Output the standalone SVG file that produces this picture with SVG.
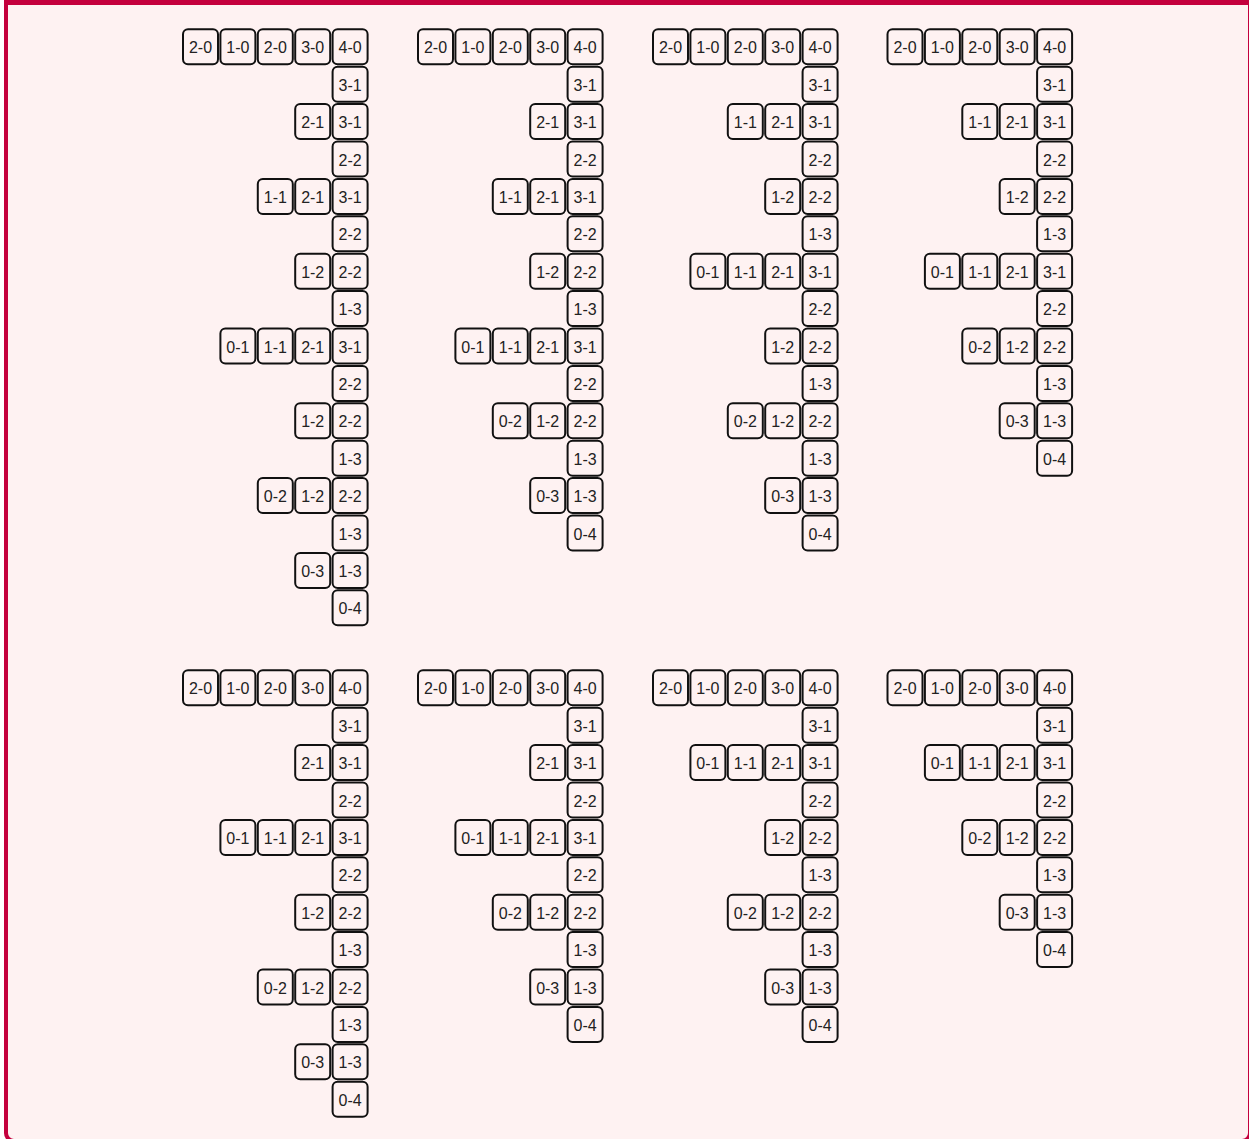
<svg xmlns="http://www.w3.org/2000/svg" width="1249" height="1139" viewBox="0 0 1249 1139">
<style>
.b{fill:#FEF2F2;stroke:#111;stroke-width:2}
.t{font-family:"Liberation Sans",Arial,sans-serif;font-size:16px;fill:#222;text-anchor:middle}
</style>
<defs>
<rect id="box" x="1" y="1" width="35" height="35" rx="5" class="b"/>
</defs>
<rect x="0" y="0" width="1249" height="1139" fill="#FFFFFF"/>
<rect x="6" y="-10" width="1244" height="1151" rx="8" fill="#FEF2F2" stroke="#C4003D" stroke-width="4"/>
<rect x="4" y="0" width="1245" height="5" fill="#C4003D"/>
<g id="connectors"></g>

<g id="panel-a" transform="translate(182,28.3)">
<g id="a-0-0" transform="translate(0,0)"><use href="#box"/><text class="t" x="18.5" y="25">2-0</text></g>
<g id="a-0-1" transform="translate(37.4,0)"><use href="#box"/><text class="t" x="18.5" y="25">1-0</text></g>
<g id="a-0-2" transform="translate(74.8,0)"><use href="#box"/><text class="t" x="18.5" y="25">2-0</text></g>
<g id="a-0-3" transform="translate(112.2,0)"><use href="#box"/><text class="t" x="18.5" y="25">3-0</text></g>
<g id="a-0-4" transform="translate(149.6,0)"><use href="#box"/><text class="t" x="18.5" y="25">4-0</text></g>
<g id="a-1-4" transform="translate(149.6,37.4)"><use href="#box"/><text class="t" x="18.5" y="25">3-1</text></g>
<g id="a-2-3" transform="translate(112.2,74.8)"><use href="#box"/><text class="t" x="18.5" y="25">2-1</text></g>
<g id="a-2-4" transform="translate(149.6,74.8)"><use href="#box"/><text class="t" x="18.5" y="25">3-1</text></g>
<g id="a-3-4" transform="translate(149.6,112.2)"><use href="#box"/><text class="t" x="18.5" y="25">2-2</text></g>
<g id="a-4-2" transform="translate(74.8,149.6)"><use href="#box"/><text class="t" x="18.5" y="25">1-1</text></g>
<g id="a-4-3" transform="translate(112.2,149.6)"><use href="#box"/><text class="t" x="18.5" y="25">2-1</text></g>
<g id="a-4-4" transform="translate(149.6,149.6)"><use href="#box"/><text class="t" x="18.5" y="25">3-1</text></g>
<g id="a-5-4" transform="translate(149.6,187)"><use href="#box"/><text class="t" x="18.5" y="25">2-2</text></g>
<g id="a-6-3" transform="translate(112.2,224.4)"><use href="#box"/><text class="t" x="18.5" y="25">1-2</text></g>
<g id="a-6-4" transform="translate(149.6,224.4)"><use href="#box"/><text class="t" x="18.5" y="25">2-2</text></g>
<g id="a-7-4" transform="translate(149.6,261.8)"><use href="#box"/><text class="t" x="18.5" y="25">1-3</text></g>
<g id="a-8-1" transform="translate(37.4,299.2)"><use href="#box"/><text class="t" x="18.5" y="25">0-1</text></g>
<g id="a-8-2" transform="translate(74.8,299.2)"><use href="#box"/><text class="t" x="18.5" y="25">1-1</text></g>
<g id="a-8-3" transform="translate(112.2,299.2)"><use href="#box"/><text class="t" x="18.5" y="25">2-1</text></g>
<g id="a-8-4" transform="translate(149.6,299.2)"><use href="#box"/><text class="t" x="18.5" y="25">3-1</text></g>
<g id="a-9-4" transform="translate(149.6,336.6)"><use href="#box"/><text class="t" x="18.5" y="25">2-2</text></g>
<g id="a-10-3" transform="translate(112.2,374)"><use href="#box"/><text class="t" x="18.5" y="25">1-2</text></g>
<g id="a-10-4" transform="translate(149.6,374)"><use href="#box"/><text class="t" x="18.5" y="25">2-2</text></g>
<g id="a-11-4" transform="translate(149.6,411.4)"><use href="#box"/><text class="t" x="18.5" y="25">1-3</text></g>
<g id="a-12-2" transform="translate(74.8,448.8)"><use href="#box"/><text class="t" x="18.5" y="25">0-2</text></g>
<g id="a-12-3" transform="translate(112.2,448.8)"><use href="#box"/><text class="t" x="18.5" y="25">1-2</text></g>
<g id="a-12-4" transform="translate(149.6,448.8)"><use href="#box"/><text class="t" x="18.5" y="25">2-2</text></g>
<g id="a-13-4" transform="translate(149.6,486.2)"><use href="#box"/><text class="t" x="18.5" y="25">1-3</text></g>
<g id="a-14-3" transform="translate(112.2,523.6)"><use href="#box"/><text class="t" x="18.5" y="25">0-3</text></g>
<g id="a-14-4" transform="translate(149.6,523.6)"><use href="#box"/><text class="t" x="18.5" y="25">1-3</text></g>
<g id="a-15-4" transform="translate(149.6,561)"><use href="#box"/><text class="t" x="18.5" y="25">0-4</text></g>
</g>

<g id="panel-b" transform="translate(417,28.3)">
<g id="b-0-0" transform="translate(0,0)"><use href="#box"/><text class="t" x="18.5" y="25">2-0</text></g>
<g id="b-0-1" transform="translate(37.4,0)"><use href="#box"/><text class="t" x="18.5" y="25">1-0</text></g>
<g id="b-0-2" transform="translate(74.8,0)"><use href="#box"/><text class="t" x="18.5" y="25">2-0</text></g>
<g id="b-0-3" transform="translate(112.2,0)"><use href="#box"/><text class="t" x="18.5" y="25">3-0</text></g>
<g id="b-0-4" transform="translate(149.6,0)"><use href="#box"/><text class="t" x="18.5" y="25">4-0</text></g>
<g id="b-1-4" transform="translate(149.6,37.4)"><use href="#box"/><text class="t" x="18.5" y="25">3-1</text></g>
<g id="b-2-3" transform="translate(112.2,74.8)"><use href="#box"/><text class="t" x="18.5" y="25">2-1</text></g>
<g id="b-2-4" transform="translate(149.6,74.8)"><use href="#box"/><text class="t" x="18.5" y="25">3-1</text></g>
<g id="b-3-4" transform="translate(149.6,112.2)"><use href="#box"/><text class="t" x="18.5" y="25">2-2</text></g>
<g id="b-4-2" transform="translate(74.8,149.6)"><use href="#box"/><text class="t" x="18.5" y="25">1-1</text></g>
<g id="b-4-3" transform="translate(112.2,149.6)"><use href="#box"/><text class="t" x="18.5" y="25">2-1</text></g>
<g id="b-4-4" transform="translate(149.6,149.6)"><use href="#box"/><text class="t" x="18.5" y="25">3-1</text></g>
<g id="b-5-4" transform="translate(149.6,187)"><use href="#box"/><text class="t" x="18.5" y="25">2-2</text></g>
<g id="b-6-3" transform="translate(112.2,224.4)"><use href="#box"/><text class="t" x="18.5" y="25">1-2</text></g>
<g id="b-6-4" transform="translate(149.6,224.4)"><use href="#box"/><text class="t" x="18.5" y="25">2-2</text></g>
<g id="b-7-4" transform="translate(149.6,261.8)"><use href="#box"/><text class="t" x="18.5" y="25">1-3</text></g>
<g id="b-8-1" transform="translate(37.4,299.2)"><use href="#box"/><text class="t" x="18.5" y="25">0-1</text></g>
<g id="b-8-2" transform="translate(74.8,299.2)"><use href="#box"/><text class="t" x="18.5" y="25">1-1</text></g>
<g id="b-8-3" transform="translate(112.2,299.2)"><use href="#box"/><text class="t" x="18.5" y="25">2-1</text></g>
<g id="b-8-4" transform="translate(149.6,299.2)"><use href="#box"/><text class="t" x="18.5" y="25">3-1</text></g>
<g id="b-9-4" transform="translate(149.6,336.6)"><use href="#box"/><text class="t" x="18.5" y="25">2-2</text></g>
<g id="b-10-2" transform="translate(74.8,374)"><use href="#box"/><text class="t" x="18.5" y="25">0-2</text></g>
<g id="b-10-3" transform="translate(112.2,374)"><use href="#box"/><text class="t" x="18.5" y="25">1-2</text></g>
<g id="b-10-4" transform="translate(149.6,374)"><use href="#box"/><text class="t" x="18.5" y="25">2-2</text></g>
<g id="b-11-4" transform="translate(149.6,411.4)"><use href="#box"/><text class="t" x="18.5" y="25">1-3</text></g>
<g id="b-12-3" transform="translate(112.2,448.8)"><use href="#box"/><text class="t" x="18.5" y="25">0-3</text></g>
<g id="b-12-4" transform="translate(149.6,448.8)"><use href="#box"/><text class="t" x="18.5" y="25">1-3</text></g>
<g id="b-13-4" transform="translate(149.6,486.2)"><use href="#box"/><text class="t" x="18.5" y="25">0-4</text></g>
</g>

<g id="panel-c" transform="translate(652,28.3)">
<g id="c-0-0" transform="translate(0,0)"><use href="#box"/><text class="t" x="18.5" y="25">2-0</text></g>
<g id="c-0-1" transform="translate(37.4,0)"><use href="#box"/><text class="t" x="18.5" y="25">1-0</text></g>
<g id="c-0-2" transform="translate(74.8,0)"><use href="#box"/><text class="t" x="18.5" y="25">2-0</text></g>
<g id="c-0-3" transform="translate(112.2,0)"><use href="#box"/><text class="t" x="18.5" y="25">3-0</text></g>
<g id="c-0-4" transform="translate(149.6,0)"><use href="#box"/><text class="t" x="18.5" y="25">4-0</text></g>
<g id="c-1-4" transform="translate(149.6,37.4)"><use href="#box"/><text class="t" x="18.5" y="25">3-1</text></g>
<g id="c-2-2" transform="translate(74.8,74.8)"><use href="#box"/><text class="t" x="18.5" y="25">1-1</text></g>
<g id="c-2-3" transform="translate(112.2,74.8)"><use href="#box"/><text class="t" x="18.5" y="25">2-1</text></g>
<g id="c-2-4" transform="translate(149.6,74.8)"><use href="#box"/><text class="t" x="18.5" y="25">3-1</text></g>
<g id="c-3-4" transform="translate(149.6,112.2)"><use href="#box"/><text class="t" x="18.5" y="25">2-2</text></g>
<g id="c-4-3" transform="translate(112.2,149.6)"><use href="#box"/><text class="t" x="18.5" y="25">1-2</text></g>
<g id="c-4-4" transform="translate(149.6,149.6)"><use href="#box"/><text class="t" x="18.5" y="25">2-2</text></g>
<g id="c-5-4" transform="translate(149.6,187)"><use href="#box"/><text class="t" x="18.5" y="25">1-3</text></g>
<g id="c-6-1" transform="translate(37.4,224.4)"><use href="#box"/><text class="t" x="18.5" y="25">0-1</text></g>
<g id="c-6-2" transform="translate(74.8,224.4)"><use href="#box"/><text class="t" x="18.5" y="25">1-1</text></g>
<g id="c-6-3" transform="translate(112.2,224.4)"><use href="#box"/><text class="t" x="18.5" y="25">2-1</text></g>
<g id="c-6-4" transform="translate(149.6,224.4)"><use href="#box"/><text class="t" x="18.5" y="25">3-1</text></g>
<g id="c-7-4" transform="translate(149.6,261.8)"><use href="#box"/><text class="t" x="18.5" y="25">2-2</text></g>
<g id="c-8-3" transform="translate(112.2,299.2)"><use href="#box"/><text class="t" x="18.5" y="25">1-2</text></g>
<g id="c-8-4" transform="translate(149.6,299.2)"><use href="#box"/><text class="t" x="18.5" y="25">2-2</text></g>
<g id="c-9-4" transform="translate(149.6,336.6)"><use href="#box"/><text class="t" x="18.5" y="25">1-3</text></g>
<g id="c-10-2" transform="translate(74.8,374)"><use href="#box"/><text class="t" x="18.5" y="25">0-2</text></g>
<g id="c-10-3" transform="translate(112.2,374)"><use href="#box"/><text class="t" x="18.5" y="25">1-2</text></g>
<g id="c-10-4" transform="translate(149.6,374)"><use href="#box"/><text class="t" x="18.5" y="25">2-2</text></g>
<g id="c-11-4" transform="translate(149.6,411.4)"><use href="#box"/><text class="t" x="18.5" y="25">1-3</text></g>
<g id="c-12-3" transform="translate(112.2,448.8)"><use href="#box"/><text class="t" x="18.5" y="25">0-3</text></g>
<g id="c-12-4" transform="translate(149.6,448.8)"><use href="#box"/><text class="t" x="18.5" y="25">1-3</text></g>
<g id="c-13-4" transform="translate(149.6,486.2)"><use href="#box"/><text class="t" x="18.5" y="25">0-4</text></g>
</g>

<g id="panel-d" transform="translate(886.5,28.3)">
<g id="d-0-0" transform="translate(0,0)"><use href="#box"/><text class="t" x="18.5" y="25">2-0</text></g>
<g id="d-0-1" transform="translate(37.4,0)"><use href="#box"/><text class="t" x="18.5" y="25">1-0</text></g>
<g id="d-0-2" transform="translate(74.8,0)"><use href="#box"/><text class="t" x="18.5" y="25">2-0</text></g>
<g id="d-0-3" transform="translate(112.2,0)"><use href="#box"/><text class="t" x="18.5" y="25">3-0</text></g>
<g id="d-0-4" transform="translate(149.6,0)"><use href="#box"/><text class="t" x="18.5" y="25">4-0</text></g>
<g id="d-1-4" transform="translate(149.6,37.4)"><use href="#box"/><text class="t" x="18.5" y="25">3-1</text></g>
<g id="d-2-2" transform="translate(74.8,74.8)"><use href="#box"/><text class="t" x="18.5" y="25">1-1</text></g>
<g id="d-2-3" transform="translate(112.2,74.8)"><use href="#box"/><text class="t" x="18.5" y="25">2-1</text></g>
<g id="d-2-4" transform="translate(149.6,74.8)"><use href="#box"/><text class="t" x="18.5" y="25">3-1</text></g>
<g id="d-3-4" transform="translate(149.6,112.2)"><use href="#box"/><text class="t" x="18.5" y="25">2-2</text></g>
<g id="d-4-3" transform="translate(112.2,149.6)"><use href="#box"/><text class="t" x="18.5" y="25">1-2</text></g>
<g id="d-4-4" transform="translate(149.6,149.6)"><use href="#box"/><text class="t" x="18.5" y="25">2-2</text></g>
<g id="d-5-4" transform="translate(149.6,187)"><use href="#box"/><text class="t" x="18.5" y="25">1-3</text></g>
<g id="d-6-1" transform="translate(37.4,224.4)"><use href="#box"/><text class="t" x="18.5" y="25">0-1</text></g>
<g id="d-6-2" transform="translate(74.8,224.4)"><use href="#box"/><text class="t" x="18.5" y="25">1-1</text></g>
<g id="d-6-3" transform="translate(112.2,224.4)"><use href="#box"/><text class="t" x="18.5" y="25">2-1</text></g>
<g id="d-6-4" transform="translate(149.6,224.4)"><use href="#box"/><text class="t" x="18.5" y="25">3-1</text></g>
<g id="d-7-4" transform="translate(149.6,261.8)"><use href="#box"/><text class="t" x="18.5" y="25">2-2</text></g>
<g id="d-8-2" transform="translate(74.8,299.2)"><use href="#box"/><text class="t" x="18.5" y="25">0-2</text></g>
<g id="d-8-3" transform="translate(112.2,299.2)"><use href="#box"/><text class="t" x="18.5" y="25">1-2</text></g>
<g id="d-8-4" transform="translate(149.6,299.2)"><use href="#box"/><text class="t" x="18.5" y="25">2-2</text></g>
<g id="d-9-4" transform="translate(149.6,336.6)"><use href="#box"/><text class="t" x="18.5" y="25">1-3</text></g>
<g id="d-10-3" transform="translate(112.2,374)"><use href="#box"/><text class="t" x="18.5" y="25">0-3</text></g>
<g id="d-10-4" transform="translate(149.6,374)"><use href="#box"/><text class="t" x="18.5" y="25">1-3</text></g>
<g id="d-11-4" transform="translate(149.6,411.4)"><use href="#box"/><text class="t" x="18.5" y="25">0-4</text></g>
</g>

<g id="panel-e" transform="translate(182,669.3)">
<g id="e-0-0" transform="translate(0,0)"><use href="#box"/><text class="t" x="18.5" y="25">2-0</text></g>
<g id="e-0-1" transform="translate(37.4,0)"><use href="#box"/><text class="t" x="18.5" y="25">1-0</text></g>
<g id="e-0-2" transform="translate(74.8,0)"><use href="#box"/><text class="t" x="18.5" y="25">2-0</text></g>
<g id="e-0-3" transform="translate(112.2,0)"><use href="#box"/><text class="t" x="18.5" y="25">3-0</text></g>
<g id="e-0-4" transform="translate(149.6,0)"><use href="#box"/><text class="t" x="18.5" y="25">4-0</text></g>
<g id="e-1-4" transform="translate(149.6,37.4)"><use href="#box"/><text class="t" x="18.5" y="25">3-1</text></g>
<g id="e-2-3" transform="translate(112.2,74.8)"><use href="#box"/><text class="t" x="18.5" y="25">2-1</text></g>
<g id="e-2-4" transform="translate(149.6,74.8)"><use href="#box"/><text class="t" x="18.5" y="25">3-1</text></g>
<g id="e-3-4" transform="translate(149.6,112.2)"><use href="#box"/><text class="t" x="18.5" y="25">2-2</text></g>
<g id="e-4-1" transform="translate(37.4,149.6)"><use href="#box"/><text class="t" x="18.5" y="25">0-1</text></g>
<g id="e-4-2" transform="translate(74.8,149.6)"><use href="#box"/><text class="t" x="18.5" y="25">1-1</text></g>
<g id="e-4-3" transform="translate(112.2,149.6)"><use href="#box"/><text class="t" x="18.5" y="25">2-1</text></g>
<g id="e-4-4" transform="translate(149.6,149.6)"><use href="#box"/><text class="t" x="18.5" y="25">3-1</text></g>
<g id="e-5-4" transform="translate(149.6,187)"><use href="#box"/><text class="t" x="18.5" y="25">2-2</text></g>
<g id="e-6-3" transform="translate(112.2,224.4)"><use href="#box"/><text class="t" x="18.5" y="25">1-2</text></g>
<g id="e-6-4" transform="translate(149.6,224.4)"><use href="#box"/><text class="t" x="18.5" y="25">2-2</text></g>
<g id="e-7-4" transform="translate(149.6,261.8)"><use href="#box"/><text class="t" x="18.5" y="25">1-3</text></g>
<g id="e-8-2" transform="translate(74.8,299.2)"><use href="#box"/><text class="t" x="18.5" y="25">0-2</text></g>
<g id="e-8-3" transform="translate(112.2,299.2)"><use href="#box"/><text class="t" x="18.5" y="25">1-2</text></g>
<g id="e-8-4" transform="translate(149.6,299.2)"><use href="#box"/><text class="t" x="18.5" y="25">2-2</text></g>
<g id="e-9-4" transform="translate(149.6,336.6)"><use href="#box"/><text class="t" x="18.5" y="25">1-3</text></g>
<g id="e-10-3" transform="translate(112.2,374)"><use href="#box"/><text class="t" x="18.5" y="25">0-3</text></g>
<g id="e-10-4" transform="translate(149.6,374)"><use href="#box"/><text class="t" x="18.5" y="25">1-3</text></g>
<g id="e-11-4" transform="translate(149.6,411.4)"><use href="#box"/><text class="t" x="18.5" y="25">0-4</text></g>
</g>

<g id="panel-f" transform="translate(417,669.3)">
<g id="f-0-0" transform="translate(0,0)"><use href="#box"/><text class="t" x="18.5" y="25">2-0</text></g>
<g id="f-0-1" transform="translate(37.4,0)"><use href="#box"/><text class="t" x="18.5" y="25">1-0</text></g>
<g id="f-0-2" transform="translate(74.8,0)"><use href="#box"/><text class="t" x="18.5" y="25">2-0</text></g>
<g id="f-0-3" transform="translate(112.2,0)"><use href="#box"/><text class="t" x="18.5" y="25">3-0</text></g>
<g id="f-0-4" transform="translate(149.6,0)"><use href="#box"/><text class="t" x="18.5" y="25">4-0</text></g>
<g id="f-1-4" transform="translate(149.6,37.4)"><use href="#box"/><text class="t" x="18.5" y="25">3-1</text></g>
<g id="f-2-3" transform="translate(112.2,74.8)"><use href="#box"/><text class="t" x="18.5" y="25">2-1</text></g>
<g id="f-2-4" transform="translate(149.6,74.8)"><use href="#box"/><text class="t" x="18.5" y="25">3-1</text></g>
<g id="f-3-4" transform="translate(149.6,112.2)"><use href="#box"/><text class="t" x="18.5" y="25">2-2</text></g>
<g id="f-4-1" transform="translate(37.4,149.6)"><use href="#box"/><text class="t" x="18.5" y="25">0-1</text></g>
<g id="f-4-2" transform="translate(74.8,149.6)"><use href="#box"/><text class="t" x="18.5" y="25">1-1</text></g>
<g id="f-4-3" transform="translate(112.2,149.6)"><use href="#box"/><text class="t" x="18.5" y="25">2-1</text></g>
<g id="f-4-4" transform="translate(149.6,149.6)"><use href="#box"/><text class="t" x="18.5" y="25">3-1</text></g>
<g id="f-5-4" transform="translate(149.6,187)"><use href="#box"/><text class="t" x="18.5" y="25">2-2</text></g>
<g id="f-6-2" transform="translate(74.8,224.4)"><use href="#box"/><text class="t" x="18.5" y="25">0-2</text></g>
<g id="f-6-3" transform="translate(112.2,224.4)"><use href="#box"/><text class="t" x="18.5" y="25">1-2</text></g>
<g id="f-6-4" transform="translate(149.6,224.4)"><use href="#box"/><text class="t" x="18.5" y="25">2-2</text></g>
<g id="f-7-4" transform="translate(149.6,261.8)"><use href="#box"/><text class="t" x="18.5" y="25">1-3</text></g>
<g id="f-8-3" transform="translate(112.2,299.2)"><use href="#box"/><text class="t" x="18.5" y="25">0-3</text></g>
<g id="f-8-4" transform="translate(149.6,299.2)"><use href="#box"/><text class="t" x="18.5" y="25">1-3</text></g>
<g id="f-9-4" transform="translate(149.6,336.6)"><use href="#box"/><text class="t" x="18.5" y="25">0-4</text></g>
</g>

<g id="panel-g" transform="translate(652,669.3)">
<g id="g-0-0" transform="translate(0,0)"><use href="#box"/><text class="t" x="18.5" y="25">2-0</text></g>
<g id="g-0-1" transform="translate(37.4,0)"><use href="#box"/><text class="t" x="18.5" y="25">1-0</text></g>
<g id="g-0-2" transform="translate(74.8,0)"><use href="#box"/><text class="t" x="18.5" y="25">2-0</text></g>
<g id="g-0-3" transform="translate(112.2,0)"><use href="#box"/><text class="t" x="18.5" y="25">3-0</text></g>
<g id="g-0-4" transform="translate(149.6,0)"><use href="#box"/><text class="t" x="18.5" y="25">4-0</text></g>
<g id="g-1-4" transform="translate(149.6,37.4)"><use href="#box"/><text class="t" x="18.5" y="25">3-1</text></g>
<g id="g-2-1" transform="translate(37.4,74.8)"><use href="#box"/><text class="t" x="18.5" y="25">0-1</text></g>
<g id="g-2-2" transform="translate(74.8,74.8)"><use href="#box"/><text class="t" x="18.5" y="25">1-1</text></g>
<g id="g-2-3" transform="translate(112.2,74.8)"><use href="#box"/><text class="t" x="18.5" y="25">2-1</text></g>
<g id="g-2-4" transform="translate(149.6,74.8)"><use href="#box"/><text class="t" x="18.5" y="25">3-1</text></g>
<g id="g-3-4" transform="translate(149.6,112.2)"><use href="#box"/><text class="t" x="18.5" y="25">2-2</text></g>
<g id="g-4-3" transform="translate(112.2,149.6)"><use href="#box"/><text class="t" x="18.5" y="25">1-2</text></g>
<g id="g-4-4" transform="translate(149.6,149.6)"><use href="#box"/><text class="t" x="18.5" y="25">2-2</text></g>
<g id="g-5-4" transform="translate(149.6,187)"><use href="#box"/><text class="t" x="18.5" y="25">1-3</text></g>
<g id="g-6-2" transform="translate(74.8,224.4)"><use href="#box"/><text class="t" x="18.5" y="25">0-2</text></g>
<g id="g-6-3" transform="translate(112.2,224.4)"><use href="#box"/><text class="t" x="18.5" y="25">1-2</text></g>
<g id="g-6-4" transform="translate(149.6,224.4)"><use href="#box"/><text class="t" x="18.5" y="25">2-2</text></g>
<g id="g-7-4" transform="translate(149.6,261.8)"><use href="#box"/><text class="t" x="18.5" y="25">1-3</text></g>
<g id="g-8-3" transform="translate(112.2,299.2)"><use href="#box"/><text class="t" x="18.5" y="25">0-3</text></g>
<g id="g-8-4" transform="translate(149.6,299.2)"><use href="#box"/><text class="t" x="18.5" y="25">1-3</text></g>
<g id="g-9-4" transform="translate(149.6,336.6)"><use href="#box"/><text class="t" x="18.5" y="25">0-4</text></g>
</g>

<g id="panel-h" transform="translate(886.5,669.3)">
<g id="h-0-0" transform="translate(0,0)"><use href="#box"/><text class="t" x="18.5" y="25">2-0</text></g>
<g id="h-0-1" transform="translate(37.4,0)"><use href="#box"/><text class="t" x="18.5" y="25">1-0</text></g>
<g id="h-0-2" transform="translate(74.8,0)"><use href="#box"/><text class="t" x="18.5" y="25">2-0</text></g>
<g id="h-0-3" transform="translate(112.2,0)"><use href="#box"/><text class="t" x="18.5" y="25">3-0</text></g>
<g id="h-0-4" transform="translate(149.6,0)"><use href="#box"/><text class="t" x="18.5" y="25">4-0</text></g>
<g id="h-1-4" transform="translate(149.6,37.4)"><use href="#box"/><text class="t" x="18.5" y="25">3-1</text></g>
<g id="h-2-1" transform="translate(37.4,74.8)"><use href="#box"/><text class="t" x="18.5" y="25">0-1</text></g>
<g id="h-2-2" transform="translate(74.8,74.8)"><use href="#box"/><text class="t" x="18.5" y="25">1-1</text></g>
<g id="h-2-3" transform="translate(112.2,74.8)"><use href="#box"/><text class="t" x="18.5" y="25">2-1</text></g>
<g id="h-2-4" transform="translate(149.6,74.8)"><use href="#box"/><text class="t" x="18.5" y="25">3-1</text></g>
<g id="h-3-4" transform="translate(149.6,112.2)"><use href="#box"/><text class="t" x="18.5" y="25">2-2</text></g>
<g id="h-4-2" transform="translate(74.8,149.6)"><use href="#box"/><text class="t" x="18.5" y="25">0-2</text></g>
<g id="h-4-3" transform="translate(112.2,149.6)"><use href="#box"/><text class="t" x="18.5" y="25">1-2</text></g>
<g id="h-4-4" transform="translate(149.6,149.6)"><use href="#box"/><text class="t" x="18.5" y="25">2-2</text></g>
<g id="h-5-4" transform="translate(149.6,187)"><use href="#box"/><text class="t" x="18.5" y="25">1-3</text></g>
<g id="h-6-3" transform="translate(112.2,224.4)"><use href="#box"/><text class="t" x="18.5" y="25">0-3</text></g>
<g id="h-6-4" transform="translate(149.6,224.4)"><use href="#box"/><text class="t" x="18.5" y="25">1-3</text></g>
<g id="h-7-4" transform="translate(149.6,261.8)"><use href="#box"/><text class="t" x="18.5" y="25">0-4</text></g>
</g>
</svg>
